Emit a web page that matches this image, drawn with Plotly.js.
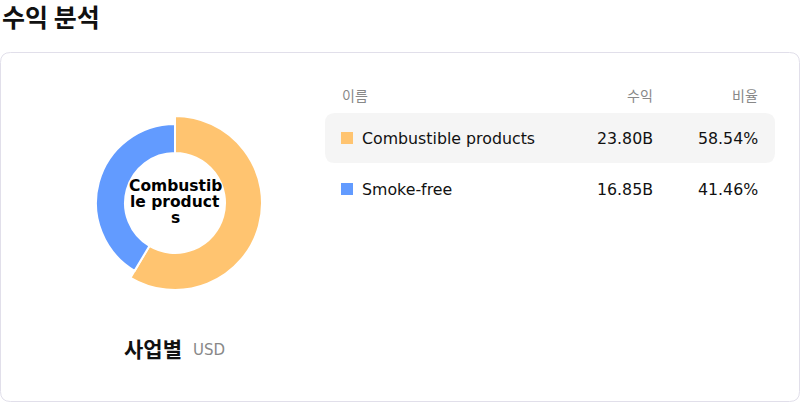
<!DOCTYPE html>
<html>
<head>
<meta charset="utf-8">
<script src="https://cdn.plot.ly/plotly-3.0.1.min.js"></script>
<style>
html,body{margin:0;padding:0;background:#fff;}
#chart{width:800px;height:402px;}
</style>
</head>
<body>
<div id="chart"></div>
<script>
// ---- data ----
var categories = ["Combustible products", "Smoke-free"];
var revenue = [23.80, 16.85];          // billions USD
var shares = [58.54, 41.46];           // percent
var colors = ["#FFC470", "#629BFF"];
var headers = ["이름", "수익", "비율"];
var pageTitle = "수익 분석";
var chartLabel = "사업별";
var unitLabel = "USD";
var centerLines = ["Combustib", "le product", "s"];

// ---- helpers (pixel -> paper) ----
var W = 800, H = 402;
function px(x){ return x / W; }
function py(y){ return 1 - y / H; }
function roundRect(x0, y0, x1, y1, r){
  var p = function(x,y){ return px(x) + "," + py(y); };
  return "M " + p(x0 + r, y0) +
    " L " + p(x1 - r, y0) +
    " Q " + p(x1, y0) + " " + p(x1, y0 + r) +
    " L " + p(x1, y1 - r) +
    " Q " + p(x1, y1) + " " + p(x1 - r, y1) +
    " L " + p(x0 + r, y1) +
    " Q " + p(x0, y1) + " " + p(x0, y1 - r) +
    " L " + p(x0, y0 + r) +
    " Q " + p(x0, y0) + " " + p(x0 + r, y0) + " Z";
}

var cx = 175, cy = 203, rInner = 50;
var rBig = 87, rSmall = 79;
function domainFor(r){
  return { x: [px(cx - r), px(cx + r)], y: [py(cy + r), py(cy - r)] };
}

var font = "DejaVu Sans, Noto Sans CJK KR, sans-serif";
var cjk = "Noto Sans CJK KR, DejaVu Sans, sans-serif";

// highlighted (larger) slice trace and normal slice trace
var traceBig = {
  type: "pie", values: revenue, labels: categories, sort: false,
  direction: "clockwise", rotation: 0,
  hole: rInner / rBig, domain: domainFor(rBig),
  marker: { colors: [colors[0], "rgba(0,0,0,0)"], line: { color: ["#ffffff", "rgba(0,0,0,0)"], width: 2 } },
  textinfo: "none", hoverinfo: "skip", showlegend: false
};
var traceSmall = {
  type: "pie", values: revenue, labels: categories, sort: false,
  direction: "clockwise", rotation: 0,
  hole: rInner / rSmall, domain: domainFor(rSmall),
  marker: { colors: ["rgba(0,0,0,0)", colors[1]], line: { color: ["rgba(0,0,0,0)", "#ffffff"], width: 2 } },
  textinfo: "none", hoverinfo: "skip", showlegend: false
};

var shapes = [
  { type: "path", xref: "paper", yref: "paper", path: roundRect(0.5, 52.5, 799.5, 401.5, 10),
    line: { color: "#E1DFEA", width: 1 }, fillcolor: "rgba(0,0,0,0)", layer: "below" },
  { type: "path", xref: "paper", yref: "paper", path: roundRect(325, 113, 775, 163, 10),
    line: { width: 0 }, fillcolor: "#F5F5F5", layer: "below" }
];

var annotations = [];
function ann(text, x, y, opts){
  var a = { text: text, x: px(x), y: py(y), xref: "paper", yref: "paper",
    showarrow: false, xanchor: "left", yanchor: "middle", borderpad: 0,
    font: { family: font, size: 15, color: "#111" } };
  for (var k in opts) a[k] = opts[k];
  annotations.push(a);
}

// page title
ann("<b>" + pageTitle + "</b>", 1, 16, { font: { family: cjk, size: 25, color: "#111" } });

// center text
var lineY = [186, 202, 218];
centerLines.forEach(function(t, i){
  ann("<b>" + t + "</b>", cx, lineY[i], { xanchor: "center", font: { family: font, size: 15.5, color: "#000" } });
});

// chart label
ann("<b>" + chartLabel + "</b>", 123, 348, { font: { family: cjk, size: 21, color: "#111" } });
ann(unitLabel, 192, 350, { font: { family: font, size: 15, color: "#888" } });

// table headers
ann(headers[0], 341, 95, { font: { family: cjk, size: 14, color: "#888" } });
ann(headers[1], 654, 95, { xanchor: "right", font: { family: cjk, size: 14, color: "#888" } });
ann(headers[2], 759, 95, { xanchor: "right", font: { family: cjk, size: 14, color: "#888" } });

// table rows
var rowY = [138, 189];
categories.forEach(function(c, i){
  var y = rowY[i];
  shapes.push({ type: "rect", xref: "paper", yref: "paper",
    x0: px(341), x1: px(353), y0: py(y + 6), y1: py(y - 6),
    line: { width: 0 }, fillcolor: colors[i] });
  ann(c, 361, y, { font: { family: font, size: 15.8, color: "#111" } });
  ann(revenue[i].toFixed(2) + "B", 654, y, { xanchor: "right", font: { family: font, size: 15.8, color: "#111" } });
  ann(shares[i].toFixed(2) + "%", 759, y, { xanchor: "right", font: { family: font, size: 15.8, color: "#111" } });
});

var layout = {
  width: W, height: H,
  margin: { l: 0, r: 0, t: 0, b: 0 },
  paper_bgcolor: "#ffffff", plot_bgcolor: "#ffffff",
  showlegend: false,
  shapes: shapes, annotations: annotations,
  font: { family: font }
};

Plotly.newPlot("chart", [traceBig, traceSmall], layout, { displayModeBar: false, staticPlot: true });
</script>
</body>
</html>
